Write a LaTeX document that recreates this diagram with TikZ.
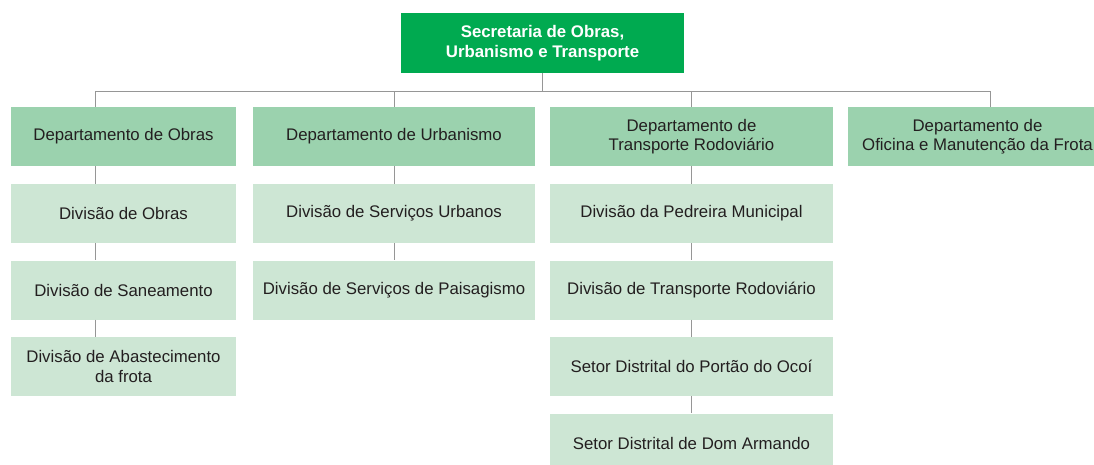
\documentclass[tikz,border=0pt]{standalone}
\usepackage{fontspec}
\setmainfont{Liberation Sans}
\usepackage{xcolor}
\usepackage{tikz}
\usetikzlibrary{positioning,calc}

\definecolor{topgreen}{RGB}{0,170,80}
\definecolor{deptgreen}{RGB}{155,210,174}
\definecolor{divgreen}{RGB}{205,230,212}
\definecolor{textgray}{RGB}{35,31,32}
\definecolor{linegray}{RGB}{150,150,150}

\tikzset{
  box/.style={inner sep=0pt, align=center, text=textgray,
    font=\fontsize{16.8}{19.5}\selectfont},
  topbox/.style={box, fill=topgreen, text=white, minimum width=283pt,
    minimum height=60pt, font=\fontsize{16.8}{19.5}\selectfont\bfseries},
  deptbox/.style={box, fill=deptgreen, minimum height=59pt},
  divbox/.style={box, fill=divgreen, minimum height=59pt},
  link/.style={draw=linegray, line width=0.8pt}
}

\begin{document}
\begin{tikzpicture}[x=1pt, y=1pt]
  \clip (0,0) rectangle (1094,-464);

  % Top box
  \node[topbox] (sec) at (542.5,-43) {Secretaria de Obras,\\Urbanismo e Transporte};

  % Department boxes
  \node[deptbox, minimum width=225pt] (dObras) at (123.5,-136.5) {Departamento de Obras};
  \node[deptbox, minimum width=282pt] (dUrb) at (394,-136.5) {Departamento de Urbanismo};
  \node[deptbox, minimum width=283pt] (dTrans) at (691.5,-136.5) {Departamento de\\Transporte Rodoviário};
  \node[deptbox, minimum width=259pt] (dFrota) at (977.5,-136.5) {Departamento de\\Oficina e Manutenção da Frota};

  % Divisions under Obras
  \node[divbox, minimum width=225pt] (obras1) at (123.5,-213.5) {Divisão de Obras};
  \node[divbox, minimum width=225pt] (obras2) at (123.5,-290) {Divisão de Saneamento};
  \node[divbox, minimum width=225pt] (obras3) at (123.5,-366.5) {Divisão de Abastecimento\\da frota};

  % Divisions under Urbanismo
  \node[divbox, minimum width=282pt] (urb1) at (394,-213.5) {Divisão de Serviços Urbanos};
  \node[divbox, minimum width=282pt] (urb2) at (394,-290) {Divisão de Serviços de Paisagismo};

  % Divisions under Transporte
  \node[divbox, minimum width=283pt] (trans1) at (691.5,-213.5) {Divisão da Pedreira Municipal};
  \node[divbox, minimum width=283pt] (trans2) at (691.5,-290) {Divisão de Transporte Rodoviário};
  \node[divbox, minimum width=283pt] (trans3) at (691.5,-366.5) {Setor Distrital do Portão do Ocoí};
  \node[divbox, minimum width=283pt] (trans4) at (691.5,-443) {Setor Distrital de Dom Armando};

  % Links from the top box
  \draw[link] (sec.south) -- ++(0,-18) -| ($(dObras.north)+(-28.5,0)$);
  \draw[link] (sec.south) -- ++(0,-18) -| ($(dFrota.north)+(12.5,0)$);
  \foreach \d in {dUrb,dTrans}
    \draw[link] (sec.south) -- ++(0,-18) -| (\d.north);

  % Links down the columns
  \draw[link] ($(dObras.south)+(-28.5,0)$) -- ($(obras1.north)+(-28.5,0)$);
  \draw[link] ($(obras1.south)+(-28.5,0)$) -- ($(obras2.north)+(-28.5,0)$);
  \draw[link] ($(obras2.south)+(-28.5,0)$) -- ($(obras3.north)+(-28.5,0)$);
  \draw[link] (dUrb) -- (urb1);
  \draw[link] (urb1) -- (urb2);
  \draw[link] (dTrans) -- (trans1);
  \draw[link] (trans1) -- (trans2);
  \draw[link] (trans2) -- (trans3);
  \draw[link] (trans3) -- (trans4);
\end{tikzpicture}
\end{document}
